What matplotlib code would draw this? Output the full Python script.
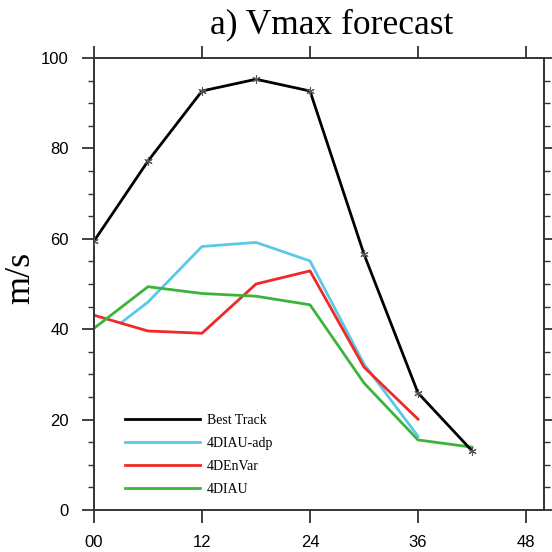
import matplotlib
matplotlib.use("Agg")
import matplotlib.pyplot as plt
from matplotlib.ticker import MultipleLocator

# forecast hour
hours = [0, 6, 12, 18, 24, 30, 36, 42]
hours_adp = [3, 6, 12, 18, 24, 30, 36]
hours_run = [0, 6, 12, 18, 24, 30, 36]

best_track = [59.5, 77.2, 92.7, 95.3, 92.7, 56.6, 25.9, 13.1]
diau_adp = [41.4, 46.0, 58.3, 59.2, 55.1, 32.3, 16.3]
denvar = [43.1, 39.6, 39.1, 50.0, 52.9, 31.6, 20.1]
diau = [40.2, 49.4, 47.9, 47.3, 45.4, 28.1, 15.5, 13.9]

xticks = [0, 12, 24, 36, 48]
xticklabels = ["00", "12", "24", "36", "48"]
yticks = [0, 20, 40, 60, 80, 100]

serif = ["Liberation Serif", "DejaVu Serif"]
sans = ["Liberation Sans", "DejaVu Sans"]

fig = plt.figure(figsize=(5.52, 5.52), dpi=100)
ax = fig.add_axes([94 / 552, 1 - 510 / 552, 450 / 552, 452 / 552])

ax.plot(hours, best_track, color="black", lw=2.0, marker=(6, 2, 0), ms=6,
        mec="#555555", mew=0.8, label="Best Track", zorder=5)
ax.plot(hours_adp, diau_adp, color="#5bc8e8", lw=2.0, label="4DIAU-adp")
ax.plot(hours_run, denvar, color="#f02828", lw=2.0, label="4DEnVar")
ax.plot(hours, diau, color="#3cb43c", lw=2.0, label="4DIAU")

ax.set_xlim(0, 50)
ax.set_ylim(0, 100)
ax.set_xticks(xticks)
ax.set_xticklabels(xticklabels, fontfamily=sans, fontsize=12)
ax.set_yticks(yticks)
ax.set_yticklabels([str(v) for v in yticks], fontfamily=sans, fontsize=12)
ax.yaxis.set_minor_locator(MultipleLocator(5))

ax.tick_params(axis="both", which="major", direction="out", length=9, width=1.3,
               color="#333333", pad=9, top=True, right=True)
ax.tick_params(axis="y", which="minor", direction="out", length=4, width=1.0,
               color="#333333", right=True)
ax.tick_params(axis="x", labeltop=False)
for sp in ax.spines.values():
    sp.set_linewidth(1.4)
    sp.set_color("#333333")

leg = ax.legend(loc="upper left", bbox_to_anchor=(0.069, 0.212), frameon=False,
                prop={"family": serif, "size": 10}, handlelength=5.4,
                handletextpad=0.5, labelspacing=0.72, borderaxespad=0, borderpad=0)
# legend lines only, no star marker
for h in leg.legend_handles:
    h.set_marker("None")

fig.text(332 / 552, 1 - 33 / 552, "a) Vmax forecast", family=serif, fontsize=25.5,
         ha="center", va="baseline")
fig.text(21 / 552, 1 - 278 / 552, "m/s", family=serif, fontsize=26,
         rotation=90, ha="center", va="center")

fig.savefig("out.png", dpi=100)
